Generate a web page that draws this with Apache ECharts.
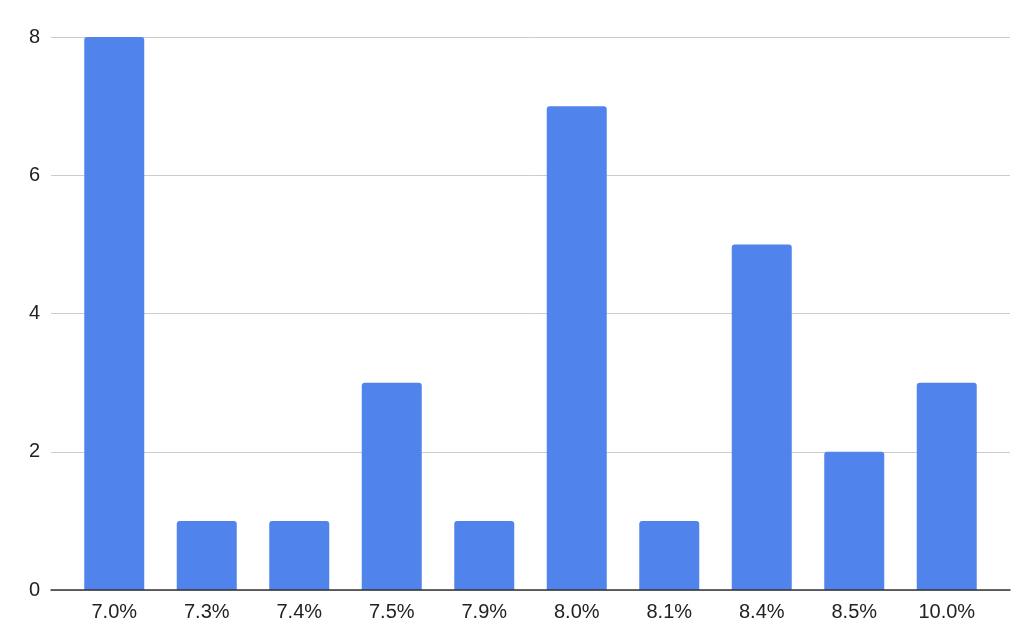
<!DOCTYPE html>
<html>
<head>
<meta charset="utf-8">
<script src="https://cdn.jsdelivr.net/npm/echarts@6/dist/echarts.min.js"></script>
<style>html,body{margin:0;padding:0;background:#fff;}#c{width:1024px;height:638px;}</style>
</head>
<body>
<div id="c"></div>
<script>
const categories = ['7.0%','7.3%','7.4%','7.5%','7.9%','8.0%','8.1%','8.4%','8.5%','10.0%'];
const counts = [8,1,1,3,1,7,1,5,2,3];
const yMin = 0, yMax = 8, yStep = 2;

const chart = echarts.init(document.getElementById('c'), null, {renderer:'canvas'});
const font = 'Liberation Sans, Arial, sans-serif';
chart.setOption({
  animation:false,
  grid:[
    {left:51, right:14, top:37, bottom:48},
    {left:68, right:31, top:37, bottom:48}
  ],
  xAxis:[
    {gridIndex:0, type:'category', data:categories, axisLabel:{show:false}, axisTick:{show:false},
     axisLine:{show:true, lineStyle:{color:'#333', width:1.5}}, z:5},
    {gridIndex:1, type:'category', data:categories, axisTick:{show:false}, axisLine:{show:false},
     axisLabel:{color:'#222', fontSize:20, fontFamily:font, margin:12}}
  ],
  yAxis:[
    {gridIndex:0, type:'value', min:yMin, max:yMax, interval:yStep,
     axisLine:{show:false}, axisTick:{show:false},
     axisLabel:{color:'#222', fontSize:20, fontFamily:font, margin:11},
     splitLine:{lineStyle:{color:'#ccc', width:1}}},
    {gridIndex:1, type:'value', min:yMin, max:yMax, interval:yStep, show:false, splitLine:{show:false}}
  ],
  series:[{
    type:'bar', xAxisIndex:1, yAxisIndex:1, data:counts, barWidth:60,
    itemStyle:{color:'#5084ec', borderRadius:[3,3,0,0]}
  }]
});
</script>
</body>
</html>
